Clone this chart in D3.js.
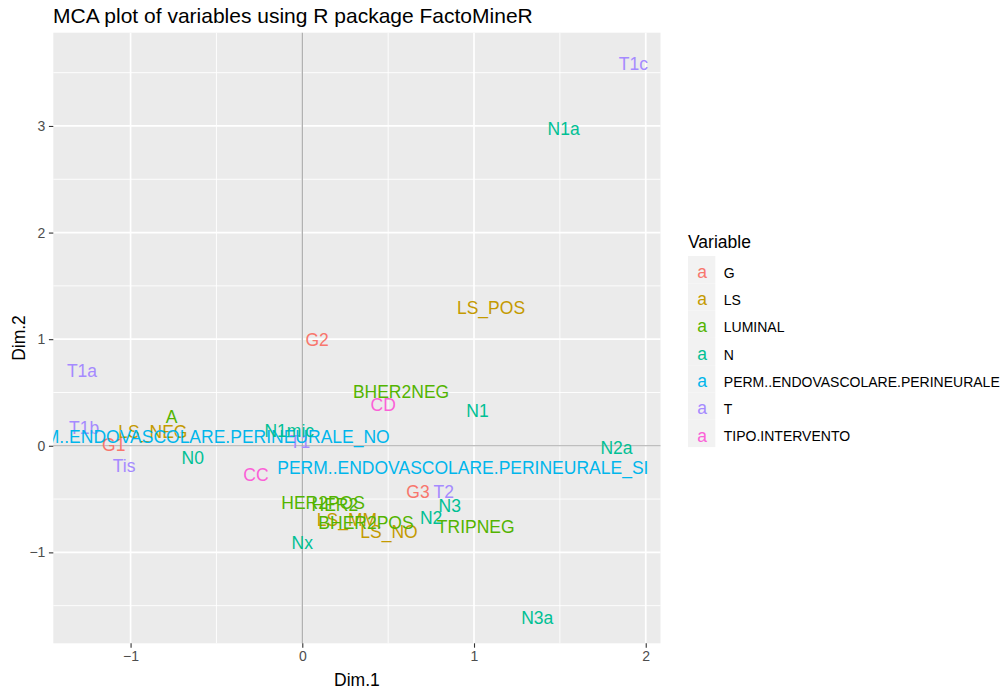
<!DOCTYPE html>
<html>
<head>
<meta charset="utf-8">
<script src="https://cdn.jsdelivr.net/npm/d3@7"></script>
<style>
  body { margin: 0; background: #fff; }
  text { font-family: "Liberation Sans", Arial, sans-serif; }
</style>
</head>
<body>
<script>
// categories (legend order) and their ggplot hue colours
const groups = ["G", "LS", "LUMINAL", "N", "PERM..ENDOVASCOLARE.PERINEURALE", "T", "TIPO.INTERVENTO"];
const groupColors = ["#F8766D", "#C49A00", "#53B400", "#00C094", "#00B6EB", "#A58AFF", "#FB61D7"];

// category levels
const labels = ["G1", "G2", "G3",
  "LS_NEG", "LS_POS", "LS_MM", "LS_NO",
  "A", "BHER2NEG", "BHER2POS", "HER2", "HER2POS", "TRIPNEG",
  "T1", "T1a", "T1b", "T1c", "T2", "Tis",
  "PERM..ENDOVASCOLARE.PERINEURALE_NO", "PERM..ENDOVASCOLARE.PERINEURALE_SI",
  "N0", "N1", "N1a", "N1mic", "N2", "N2a", "N3", "N3a", "Nx",
  "CC", "CD"];
const variable = ["G", "G", "G",
  "LS", "LS", "LS", "LS",
  "LUMINAL", "LUMINAL", "LUMINAL", "LUMINAL", "LUMINAL", "LUMINAL",
  "T", "T", "T", "T", "T", "T",
  "PERM..ENDOVASCOLARE.PERINEURALE", "PERM..ENDOVASCOLARE.PERINEURALE",
  "N", "N", "N", "N", "N", "N", "N", "N", "N",
  "TIPO.INTERVENTO", "TIPO.INTERVENTO"];
const dim1 = [-1.098, 0.086, 0.674,
  -0.870, 1.099, 0.260, 0.505,
  -0.761, 0.575, 0.371, 0.190, 0.121, 1.010,
  -0.013, -1.283, -1.271, 1.928, 0.824, -1.038,
  -0.600, 0.935,
  -0.638, 1.020, 1.522, -0.076, 0.750, 1.830, 0.859, 1.368, 0.000,
  -0.270, 0.471];
const dim2 = [0.008, 0.992, -0.430,
  0.129, 1.293, -0.696, -0.806,
  0.273, 0.511, -0.724, -0.555, -0.534, -0.759,
  0.038, 0.700, 0.167, 3.584, -0.430, -0.189,
  0.085, -0.205,
  -0.108, 0.332, 2.972, 0.144, -0.671, -0.016, -0.558, -1.615, -0.909,
  -0.274, 0.386];

// axis limits and ticks as shown
const xLimits = [-1.450, 2.086];
const yLimits = [-1.853, 3.875];
const xTicks = [-1, 0, 1, 2];
const yTicks = [-1, 0, 1, 2, 3];
const xMinor = [-0.5, 0.5, 1.5];
const yMinor = [-1.5, -0.5, 0.5, 1.5, 2.5, 3.5];

const width = 1008, height = 687;
const panel = { left: 53.3, top: 32.7, right: 660.5, bottom: 643.3 };

const svg = d3.select("body").append("svg")
    .attr("width", width)
    .attr("height", height);

const x = d3.scaleLinear().domain(xLimits).range([panel.left, panel.right]);
const y = d3.scaleLinear().domain(yLimits).range([panel.bottom, panel.top]);
const color = d3.scaleOrdinal().domain(groups).range(groupColors);

svg.append("clipPath").attr("id", "panel-clip")
  .append("rect")
    .attr("x", panel.left).attr("y", panel.top)
    .attr("width", panel.right - panel.left)
    .attr("height", panel.bottom - panel.top);

svg.append("rect")
    .attr("x", panel.left).attr("y", panel.top)
    .attr("width", panel.right - panel.left)
    .attr("height", panel.bottom - panel.top)
    .attr("fill", "#EBEBEB");

const grid = svg.append("g");
grid.selectAll(".xminor").data(xMinor).enter().append("line")
    .attr("x1", d => x(d)).attr("x2", d => x(d))
    .attr("y1", panel.top).attr("y2", panel.bottom)
    .attr("stroke", "#fff").attr("stroke-width", 0.9);
grid.selectAll(".yminor").data(yMinor).enter().append("line")
    .attr("y1", d => y(d)).attr("y2", d => y(d))
    .attr("x1", panel.left).attr("x2", panel.right)
    .attr("stroke", "#fff").attr("stroke-width", 0.9);
grid.selectAll(".xmajor").data(xTicks).enter().append("line")
    .attr("x1", d => x(d)).attr("x2", d => x(d))
    .attr("y1", panel.top).attr("y2", panel.bottom)
    .attr("stroke", "#fff").attr("stroke-width", 1.7);
grid.selectAll(".ymajor").data(yTicks).enter().append("line")
    .attr("y1", d => y(d)).attr("y2", d => y(d))
    .attr("x1", panel.left).attr("x2", panel.right)
    .attr("stroke", "#fff").attr("stroke-width", 1.7);

// reference lines at 0
svg.append("line")
    .attr("x1", panel.left).attr("x2", panel.right)
    .attr("y1", y(0)).attr("y2", y(0))
    .attr("stroke", "#A8A8A8").attr("stroke-width", 1.2);
svg.append("line")
    .attr("x1", x(0)).attr("x2", x(0))
    .attr("y1", panel.top).attr("y2", panel.bottom)
    .attr("stroke", "#A8A8A8").attr("stroke-width", 1.2);

// labels
const rows = labels.map((l, i) => ({ label: l, v: variable[i], x: dim1[i], y: dim2[i] }));
svg.append("g")
    .attr("clip-path", "url(#panel-clip)")
  .selectAll("text").data(rows).enter().append("text")
    .attr("x", d => x(d.x))
    .attr("y", d => y(d.y))
    .attr("dy", "0.36em")
    .attr("text-anchor", "middle")
    .attr("font-size", 17.5)
    .attr("fill", d => color(d.v))
    .text(d => d.label);

// axes
const xAxis = svg.append("g")
    .attr("transform", `translate(0,${panel.bottom})`)
    .call(d3.axisBottom(x).tickValues(xTicks).tickSize(4.4).tickPadding(3.5).tickFormat(d3.format("d")));
const yAxis = svg.append("g")
    .attr("transform", `translate(${panel.left},0)`)
    .call(d3.axisLeft(y).tickValues(yTicks).tickSize(4.4).tickPadding(3.5).tickFormat(d3.format("d")));
[xAxis, yAxis].forEach(a => {
  a.select(".domain").remove();
  a.selectAll(".tick line").attr("stroke", "#333333").attr("stroke-width", 1.1);
  a.selectAll(".tick text")
      .attr("fill", "#4D4D4D")
      .attr("font-size", 14)
      .attr("font-family", "Liberation Sans, Arial, sans-serif");
});

// titles
svg.append("text")
    .attr("x", 53).attr("y", 23)
    .attr("font-size", 21)
    .attr("fill", "#000")
    .text("MCA plot of variables using R package FactoMineR");
svg.append("text")
    .attr("x", (panel.left + panel.right) / 2).attr("y", 685.5)
    .attr("text-anchor", "middle")
    .attr("font-size", 17.5)
    .text("Dim.1");
svg.append("text")
    .attr("transform", `translate(24.5,${(panel.top + panel.bottom) / 2}) rotate(-90)`)
    .attr("text-anchor", "middle")
    .attr("font-size", 17.5)
    .text("Dim.2");

// legend
const legend = svg.append("g").attr("transform", "translate(688,256)");
const keySize = 27.3;
legend.append("text")
    .attr("x", 0).attr("y", -8.5)
    .attr("font-size", 17.5)
    .text("Variable");
const keys = legend.selectAll(".key").data(groups).enter().append("g")
    .attr("transform", (d, i) => `translate(0,${i * keySize})`);
keys.append("rect")
    .attr("width", keySize).attr("height", keySize)
    .attr("fill", "#F2F2F2");
keys.append("text")
    .attr("x", keySize / 2 + 0.5).attr("y", keySize / 2 + 3)
    .attr("dy", "0.3em")
    .attr("text-anchor", "middle")
    .attr("font-size", 17.5)
    .attr("fill", d => color(d))
    .text("a");
keys.append("text")
    .attr("x", keySize + 8.5).attr("y", keySize / 2 + 3)
    .attr("dy", "0.36em")
    .attr("font-size", 14)
    .text(d => d);
</script>
</body>
</html>
